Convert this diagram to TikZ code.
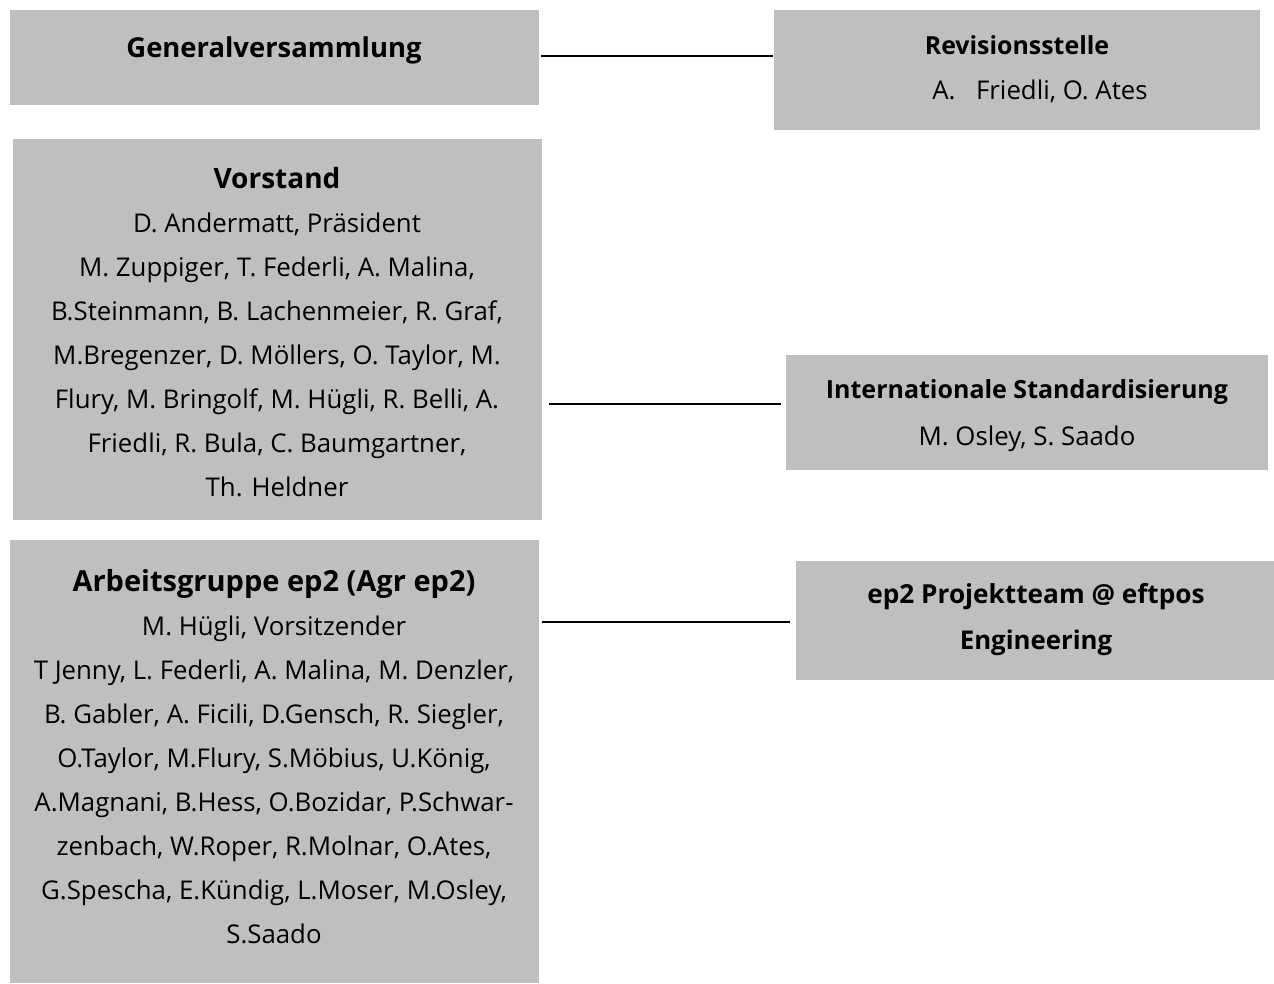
\documentclass[tikz,border=0pt]{standalone}
\usepackage{fontspec}
\setmainfont{Open Sans}
\definecolor{boxgray}{HTML}{BFBFBF}
\begin{document}
\begin{tikzpicture}[x=1pt,y=-1pt,
  box/.style={fill=boxgray, draw=none, inner sep=0pt, anchor=north west},
  txt/.style={align=center, font=\fontsize{25.8}{44}\selectfont, inner sep=0pt, text=black},
  rtxt/.style={align=center, font=\fontsize{25.8}{46.5}\selectfont, inner sep=0pt, text=black},
  conn/.style={draw=black, line width=2pt}]
\useasboundingbox[fill=white] (0,0) rectangle (1274,983);
% boxes
\node[box, minimum width=529, minimum height=95]  (gv)  at (10,10) {};
\node[box, minimum width=486, minimum height=120] (rev) at (774,10) {};
\node[box, minimum width=529, minimum height=381] (vs)  at (13,139) {};
\node[box, minimum width=482, minimum height=115] (ist) at (786,355) {};
\node[box, minimum width=529, minimum height=443] (agr) at (10,540) {};
\node[box, minimum width=478, minimum height=119] (ep2) at (796,561) {};
% texts
\node[txt] (gvt) at (274,50) {\fontsize{27.4}{44}\selectfont\bfseries Generalversammlung};
\node[txt] (revt1) at (1017,45.5) {\fontsize{24.9}{44}\selectfont\bfseries Revisionsstelle};
\node[txt] (revt2) at (1040,91.5) {A.\hspace{0.8em}Friedli, O. Ates};
\node[txt] (vst) at (277,332) {{\fontsize{28}{44}\selectfont\bfseries Vorstand}\\
D. Andermatt, Präsident\\
M. Zuppiger, T. Federli, A. Malina,\\
B.Steinmann, B. Lachenmeier, R. Graf,\\
M.Bregenzer, D. Möllers, O. Taylor, M.\\
Flury, M. Bringolf, M. Hügli, R. Belli, A.\\
Friedli, R. Bula, C. Baumgartner,\\
Th. Heldner};
\node[rtxt] (istt) at (1027,415.5) {{\fontsize{25}{46.5}\selectfont\bfseries Internationale Standardisierung}\\
M. Osley, S. Saado};
\node[txt] (agrt) at (274,756.5) {{\fontsize{29}{44}\selectfont\bfseries Arbeitsgruppe ep2 (Agr ep2)}\\
M. Hügli, Vorsitzender\\
T Jenny, L. Federli, A. Malina, M. Denzler,\\
B. Gabler, A. Ficili, D.Gensch, R. Siegler,\\
O.Taylor, M.Flury, S.Möbius, U.König,\\
A.Magnani, B.Hess, O.Bozidar, P.Schwar-\\
zenbach, W.Roper, R.Molnar, O.Ates,\\
G.Spescha, E.Kündig, L.Moser, M.Osley,\\
S.Saado};
\node[rtxt] (ep2t) at (1036,619.5) {\fontsize{26.2}{46.5}\selectfont\bfseries ep2 Projektteam @ eftpos\\ \bfseries Engineering};
% connectors
\coordinate (c1) at ([xshift=2pt,yshift=1.5pt]gv.east);
\draw[conn] (c1) -- ([xshift=-1pt]c1 -| rev.west);
\coordinate (c2) at ([xshift=7pt,yshift=-74.5pt]vs.east);
\draw[conn] (c2) -- ([xshift=-5pt]c2 -| ist.west);
\coordinate (c3) at ([xshift=3pt,yshift=139.5pt]agr.east);
\draw[conn] (c3) -- ([xshift=-6pt]c3 -| ep2.west);
\end{tikzpicture}
\end{document}
